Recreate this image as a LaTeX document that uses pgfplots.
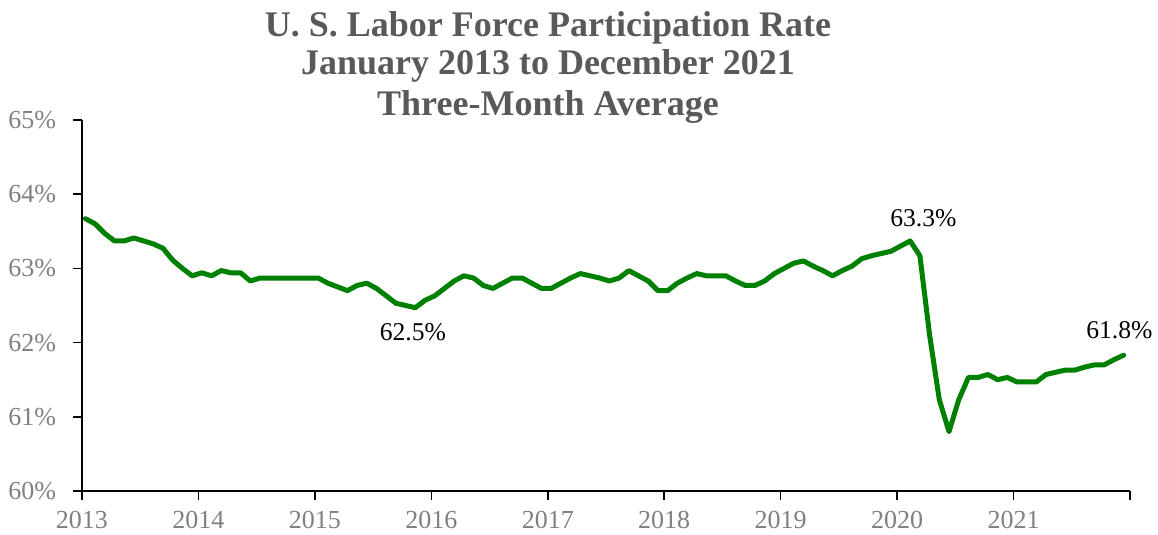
\documentclass[border=0pt]{standalone}
\usepackage{pgfplots}
\pgfplotsset{compat=1.18}
\usepackage{pgfplotstable}
\usepackage{fontspec}
\setmainfont{Liberation Serif}
\definecolor{titlegray}{HTML}{595959}
\definecolor{tickgray}{HTML}{808080}
\definecolor{linegreen}{HTML}{008000}

\pgfplotstableread{
m v
0 63.67
1 63.60
2 63.47
3 63.37
4 63.37
5 63.41
6 63.37
7 63.33
8 63.27
9 63.11
10 63.00
11 62.90
12 62.94
13 62.90
14 62.97
15 62.94
16 62.94
17 62.83
18 62.87
19 62.87
20 62.87
21 62.87
22 62.87
23 62.87
24 62.87
25 62.80
26 62.75
27 62.70
28 62.77
29 62.80
30 62.73
31 62.63
32 62.53
33 62.50
34 62.47
35 62.57
36 62.63
37 62.73
38 62.83
39 62.90
40 62.87
41 62.77
42 62.73
43 62.80
44 62.87
45 62.87
46 62.80
47 62.73
48 62.73
49 62.80
50 62.87
51 62.93
52 62.90
53 62.87
54 62.83
55 62.87
56 62.97
57 62.90
58 62.83
59 62.70
60 62.70
61 62.80
62 62.87
63 62.93
64 62.90
65 62.90
66 62.90
67 62.83
68 62.77
69 62.77
70 62.83
71 62.93
72 63.00
73 63.07
74 63.10
75 63.03
76 62.97
77 62.90
78 62.97
79 63.03
80 63.13
81 63.17
82 63.20
83 63.23
84 63.30
85 63.37
86 63.17
87 62.10
88 61.23
89 60.80
90 61.23
91 61.53
92 61.53
93 61.57
94 61.50
95 61.53
96 61.47
97 61.47
98 61.47
99 61.57
100 61.60
101 61.63
102 61.63
103 61.67
104 61.70
105 61.70
106 61.77
107 61.83
}\lfpr

\begin{document}
\begin{tikzpicture}
\begin{axis}[
  name=ax,
  scale only axis,
  width=524pt, height=185.5pt,
  xmin=0, xmax=108, ymin=60, ymax=65,
  axis lines*=left,
  axis line style={black, line width=0.8pt},
  tick align=outside,
  major tick length=4.5pt,
  tick style={black, line width=0.8pt},
  xtick={0,12,24,36,48,60,72,84,96,108},
  xticklabels={2013,2014,2015,2016,2017,2018,2019,2020,2021,{}},
  ytick={60,61,62,63,64,65},
  yticklabel={\pgfmathprintnumber{\tick}\%},
  /pgf/number format/assume math mode=true,
  ticklabel style={font=\fontsize{13pt}{15pt}\selectfont, text=tickgray},
  yticklabel style={xshift=-5pt},
  xticklabel style={yshift=-2pt},
  clip=false,
]
\addplot[linegreen, line width=2.5pt, line join=round, line cap=round]
  table[x expr=\thisrow{m}+0.35, y=v] {\lfpr};
\node[font=\fontsize{12.8pt}{15pt}\selectfont] at (axis cs:34.1,62.14) {62.5\%};
\node[font=\fontsize{12.8pt}{15pt}\selectfont] at (axis cs:86.7,63.68) {63.3\%};
\node[font=\fontsize{12.8pt}{15pt}\selectfont] at (axis cs:106.9,62.17) {61.8\%};
\end{axis}
\begin{scope}[every node/.style={font=\fontsize{18pt}{21pt}\selectfont\bfseries, text=titlegray, anchor=base, inner sep=0pt}]
\node at ([shift={(233pt,41.5pt)}]ax.north west) {U. S. Labor Force Participation Rate};
\node at ([shift={(233pt,22.5pt)}]ax.north west) {January 2013 to December 2021};
\node at ([shift={(233pt,2pt)}]ax.north west) {Three-Month Average};
\end{scope}
\pgfresetboundingbox
\path[use as bounding box] ([shift={(-41pt,-22pt)}]ax.south west) rectangle ([shift={(14pt,60pt)}]ax.north east);
\end{tikzpicture}
\end{document}
